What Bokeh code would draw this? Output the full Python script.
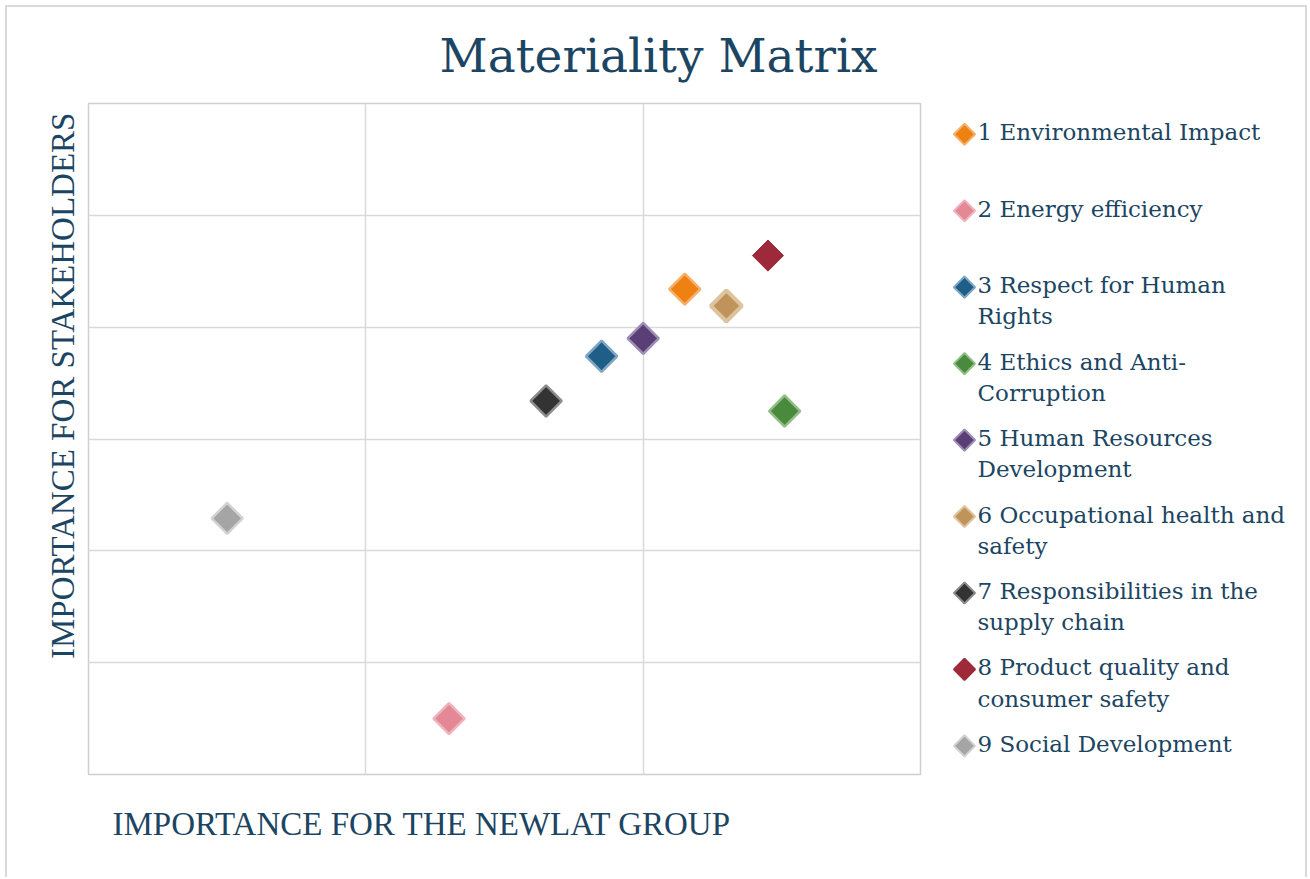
import math
from bokeh.plotting import figure
from bokeh.layouts import row, column
from bokeh.models import Range1d, ColumnDataSource, FixedTicker
from bokeh.core.properties import value
from bokeh.embed import file_html
from bokeh.resources import INLINE

# ---- data ----
chart_title = "Materiality Matrix"
x_title = "IMPORTANCE FOR THE NEWLAT GROUP"
y_title = "IMPORTANCE FOR STAKEHOLDERS"
topics = [
    "1 Environmental Impact",
    "2 Energy efficiency",
    "3 Respect for Human\nRights",
    "4 Ethics and Anti-\nCorruption",
    "5 Human Resources\nDevelopment",
    "6 Occupational health and\nsafety",
    "7 Responsibilities in the\nsupply chain",
    "8 Product quality and\nconsumer safety",
    "9 Social Development",
]
group_importance = [2.15, 1.30, 1.85, 2.51, 2.00, 2.30, 1.65, 2.45, 0.50]
stakeholder_importance = [4.34, 0.50, 3.74, 3.25, 3.90, 4.19, 3.34, 4.64, 2.29]

# ---- styles ----
fills = ["#EF8012", "#E58896", "#1F5F87", "#4A8A3C", "#5A3F77",
         "#C0935A", "#333333", "#9E2A39", "#A5A5A5"]
edges = ["#F6B06A", "#EFB3BC", "#7FA6C3", "#93BE87", "#9E8EB5",
         "#DEC49E", "#8C8C8C", "#9E2A39", "#D2D2D2"]
edge_w = [2.5, 2.5, 2.5, 2.5, 2.5, 4, 2.5, 1, 2.5]
TXT = "#1B4562"
SERIF = "DejaVu Serif"
AXF = "Liberation Serif"

src = ColumnDataSource(dict(x=group_importance, y=stakeholder_importance,
                            fill=fills, edge=edges, lw=edge_w, label=topics,
                            idx=list(range(len(topics)))))

TOTAL_W = 1298
TOP_H, MID_H, BOT_H = 94, 675, 101
YL_W, MAIN_W = 79, 852
LEG_W = TOTAL_W - YL_W - MAIN_W


def blank(width, height, xr, yr):
    f = figure(width=width, height=height, output_backend="svg",
               toolbar_location=None, x_range=xr, y_range=yr, min_border=0)
    f.axis.visible = False
    f.grid.visible = False
    f.outline_line_color = None
    f.border_fill_color = "white"
    f.background_fill_color = "white"
    return f


# ---- title strip ----
top = blank(TOTAL_W, TOP_H, Range1d(0, TOTAL_W), Range1d(TOP_H, 0))
top.text(x=[651], y=[48], text=[chart_title], text_font=value(SERIF),
         text_font_size="47px", text_color=TXT, text_align="center",
         text_baseline="alphabetic")

# ---- y-axis title strip ----
ylab = blank(YL_W, MID_H, Range1d(0, YL_W), Range1d(MID_H, 0))
ylab.text(x=[55], y=[284], text=[y_title], text_font=value(AXF),
          text_font_size="33px", text_color=TXT, text_align="center",
          text_baseline="middle", angle=math.pi / 2)

# ---- main matrix ----
p = figure(width=MAIN_W, height=MID_H, output_backend="svg",
           toolbar_location=None, x_range=Range1d(0, 3), y_range=Range1d(0, 6),
           min_border_left=2, min_border_right=18, min_border_top=2,
           min_border_bottom=2)
p.xaxis.visible = False
p.yaxis.visible = False
p.xgrid.ticker = FixedTicker(ticks=[1, 2])
p.ygrid.ticker = FixedTicker(ticks=[1, 2, 3, 4, 5])
p.xgrid.grid_line_color = "#D9D9D9"
p.ygrid.grid_line_color = "#D9D9D9"
p.xgrid.grid_line_width = 1.5
p.ygrid.grid_line_width = 1.5
p.outline_line_color = "#CFCFCF"
p.outline_line_width = 1.5
p.background_fill_color = "white"
p.border_fill_color = "white"
p.scatter("x", "y", source=src, marker="square", size=22, angle=math.pi / 4,
          fill_color="fill", line_color="edge", line_width="lw")

# ---- legend panel ----
leg = blank(LEG_W, MID_H, Range1d(0, LEG_W), Range1d(8.375, -0.403))
leg.scatter(x=26, y="idx", source=src, marker="square", size=15,
            angle=math.pi / 4, fill_color="fill", line_color="edge",
            line_width=2)
leg.text(x=39, y="idx", text="label", source=src,
         text_font=value(SERIF), text_font_size="23px", text_color=TXT,
         text_baseline="top", text_line_height=1.2, y_offset=-15)

# ---- x-axis title strip ----
bot = blank(TOTAL_W, BOT_H, Range1d(0, TOTAL_W), Range1d(BOT_H, 0))
bot.text(x=[105], y=[47], text=[x_title], text_font=value(AXF),
         text_font_size="33px", text_color=TXT, text_align="left",
         text_baseline="middle")

layout = column(top, row(ylab, p, leg), bot,
                styles={"border": "2px solid #D9D9D9",
                        "border-bottom": "none",
                        "margin-left": "5px", "margin-top": "5px"})
open("out.html", "w").write(file_html(layout, INLINE))
